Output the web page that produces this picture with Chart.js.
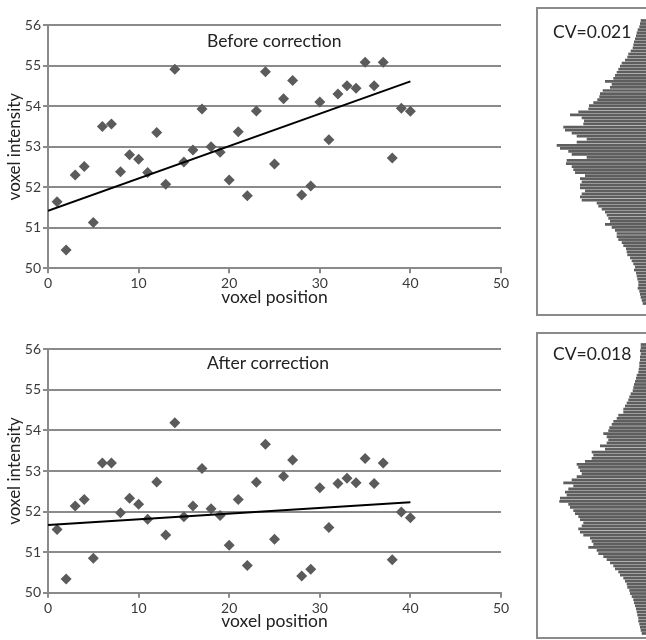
<!DOCTYPE html>
<html>
<head>
<meta charset="utf-8">
<script src="https://cdn.jsdelivr.net/npm/chart.js@4.4.0/dist/chart.umd.min.js"></script>
<style>
  html, body { margin: 0; padding: 0; overflow: hidden; background: #fff; }
  body { width: 646px; height: 640px; position: relative; }
  canvas { position: absolute; }
  .box { position: absolute; left: 536px; width: 130px; border: 2px solid #8a8a8a; box-sizing: border-box; }
</style>
</head>
<body>
<div class="box" style="top:7px;height:309px"></div>
<div class="box" style="top:332px;height:307px"></div>
<canvas id="beforeChart" width="520" height="320" style="left:0;top:0"></canvas>
<canvas id="afterChart" width="520" height="320" style="left:0;top:320px"></canvas>
<canvas id="beforeHist" width="113" height="307" style="left:537px;top:8px"></canvas>
<canvas id="afterHist" width="113" height="305" style="left:537px;top:333px"></canvas>
<script>
Chart.defaults.font.family = 'Lato, "Open Sans", sans-serif'

// voxel positions along the profile
const voxelPosition = [1,2,3,4,5,6,7,8,9,10,11,12,13,14,15,16,17,18,19,20,
  21,22,23,24,25,26,27,28,29,30,31,32,33,34,35,36,37,38,39,40]

const beforeIntensity = [51.64,50.45,52.30,52.51,51.13,53.50,53.56,52.38,52.80,52.69,
  52.36,53.35,52.07,54.91,52.62,52.92,53.93,53.00,52.86,52.18,
  53.37,51.79,53.88,54.85,52.57,54.18,54.63,51.81,52.03,54.10,
  53.17,54.30,54.50,54.44,55.08,54.50,55.08,52.72,53.95,53.87]

const afterIntensity = [51.56,50.34,52.14,52.30,50.85,53.20,53.20,51.97,52.33,52.18,
  51.81,52.73,51.42,54.19,51.87,52.14,53.06,52.07,51.90,51.17,
  52.30,50.67,52.72,53.66,51.32,52.87,53.27,50.41,50.58,52.59,
  51.61,52.69,52.82,52.71,53.31,52.69,53.20,50.81,51.99,51.85]

// fitted trend lines (ends)
const fitX = [0, 40]
const beforeFit = [51.42, 54.61]
const afterFit = [51.67, 52.23]

const xTicks = [0, 10, 20, 30, 40, 50]
const yTicks = [50, 51, 52, 53, 54, 55, 56]

// histogram bar lengths, top to bottom
const beforeHist = [9.3,10,10.7,12.3,13.3,14,15,16,16.7,17.3,19.3,21.7,22.7,25,28.3,30,31.7,33.3,35,36.7,
  45,38.3,40,47.3,50,50.7,52.7,56.7,61,61.7,71.7,80,68.3,66,66.7,86.7,85,78.3,73.3,63.3,
  73.3,93.3,90,81.7,78.3,63.3,83.3,84,78.3,76.7,75,65,70,68.3,70,70,65,68.3,70,68.3,
  53.3,51.7,48.3,45,43.3,41.7,40,45,38.3,35,33.3,33.3,31.7,28.3,26.7,24,23.3,22.7,20,18.3,
  16.7,15,16,14,13.3,12.7,11.7,11.7,12.3,10.7,10,9.3,8.3,7.3]

const afterHist = [9.3,9.3,10,9.3,10,10,10.7,10.7,11.3,
  11.7,13.3,14,15,16,16.7,17.3,19.3,20.7,21.7,23.3,25,26.7,26.7,31.7,33.3,36.7,38.3,40.7,41.7,
  46.7,43.3,41.7,43.3,50,45,58.3,56.7,58.3,65,73.3,71.7,70,68.3,73.3,78.3,86.7,76.7,81.7,85,
  83.3,90,90.7,81.7,80,76.7,75,71.7,70,66.7,68.3,71.7,70,66.7,60,58.3,56.7,61.7,53.3,51.7,
  46.7,43.3,40,36.7,35,31.7,30,26.7,25,23.3,22.7,20.7,20,18.3,16.7,16,15,14,13.3,12.7,
  11.7,11.7,10.7,10,9.3,8.3]

const labelPlugin = {
  id: 'panelLabel',
  afterDraw(chart, args, opts) {
    if (!opts.text) return
    const ctx = chart.ctx
    ctx.save()
    ctx.font = opts.size + 'px Lato, "Open Sans", sans-serif'
    ctx.fillStyle = '#222'
    ctx.textBaseline = 'middle'
    ctx.fillText(opts.text, opts.x, opts.y)
    ctx.restore()
  }
}
Chart.register(labelPlugin)

const gridGray = '#8a8a8a'
const markGray = '#5b5b5b'

function scatterChart(el, values, fit, title, pads) {
  return new Chart(document.getElementById(el), {
    type: 'scatter',
    data: {
      datasets: [{
        data: fitX.map((x, i) => ({x: x, y: fit[i]})),
        showLine: true,
        borderColor: '#000',
        borderWidth: 2,
        pointRadius: 0
      }, {
        data: voxelPosition.map((x, i) => ({x: x, y: values[i]})),
        pointStyle: 'rectRot',
        pointRadius: 5.5,
        backgroundColor: markGray,
        borderColor: markGray,
        borderWidth: 0
      }]
    },
    options: {
      responsive: false,
      animation: false,
      layout: { padding: { top: pads.top, right: 19, left: 0, bottom: 0 } },
      plugins: {
        legend: { display: false },
        tooltip: { enabled: false },
        panelLabel: { text: title, x: 207, y: pads.titleY, size: 17.5 }
      },
      scales: {
        x: {
          type: 'linear', min: 0, max: 50,
          afterBuildTicks: s => { s.ticks = xTicks.map(v => ({value: v})) },
          ticks: { color: '#3a3a3a', font: { size: 14 }, padding: 2 },
          grid: { drawOnChartArea: false, tickLength: 5, color: gridGray, lineWidth: 2 },
          border: { color: gridGray, width: 2 },
          title: { display: true, text: 'voxel position', color: '#222', font: { size: 17.5 },
                   padding: { top: 0, bottom: pads.xTitle } },
          afterFit: s => { s.height = pads.xAxis }
        },
        y: {
          min: 50, max: 56,
          afterBuildTicks: s => { s.ticks = yTicks.map(v => ({value: v})) },
          ticks: { color: '#3a3a3a', font: { size: 14 }, padding: 2 },
          grid: { tickLength: 5, color: gridGray, lineWidth: 2 },
          border: { color: gridGray, width: 2 },
          title: { display: true, text: 'voxel intensity', color: '#222', font: { size: 17 },
                   padding: { top: 4, bottom: 0 } },
          afterFit: s => { s.width = 48 }
        }
      }
    }
  })
}

scatterChart('beforeChart', beforeIntensity, beforeFit, 'Before correction',
  { top: 25, xAxis: 51.7, xTitle: 12.4, titleY: 41 })
scatterChart('afterChart', afterIntensity, afterFit, 'After correction',
  { top: 29.3, xAxis: 47.3, xTitle: 7.7, titleY: 43.3 })

function histChart(el, counts, cv, pad) {
  return new Chart(document.getElementById(el), {
    type: 'bar',
    data: {
      labels: counts.map((_, i) => i),
      datasets: [{
        data: counts,
        backgroundColor: '#5e5e5e',
        barPercentage: 1,
        categoryPercentage: 0.9
      }]
    },
    options: {
      indexAxis: 'y',
      responsive: false,
      animation: false,
      layout: { padding: { top: pad.top, bottom: pad.bottom, left: 0, right: 0 } },
      plugins: {
        legend: { display: false },
        tooltip: { enabled: false },
        panelLabel: { text: cv, x: 16, y: pad.labelY, size: 17.5 }
      },
      scales: {
        x: { display: false, reverse: true, min: 0, max: 113 },
        y: { display: false }
      }
    }
  })
}

histChart('beforeHist', beforeHist, 'CV=0.021', { top: 11, bottom: 10, labelY: 24 })
histChart('afterHist', afterHist, 'CV=0.018', { top: 10, bottom: 3, labelY: 21 })
</script>
</body>
</html>
